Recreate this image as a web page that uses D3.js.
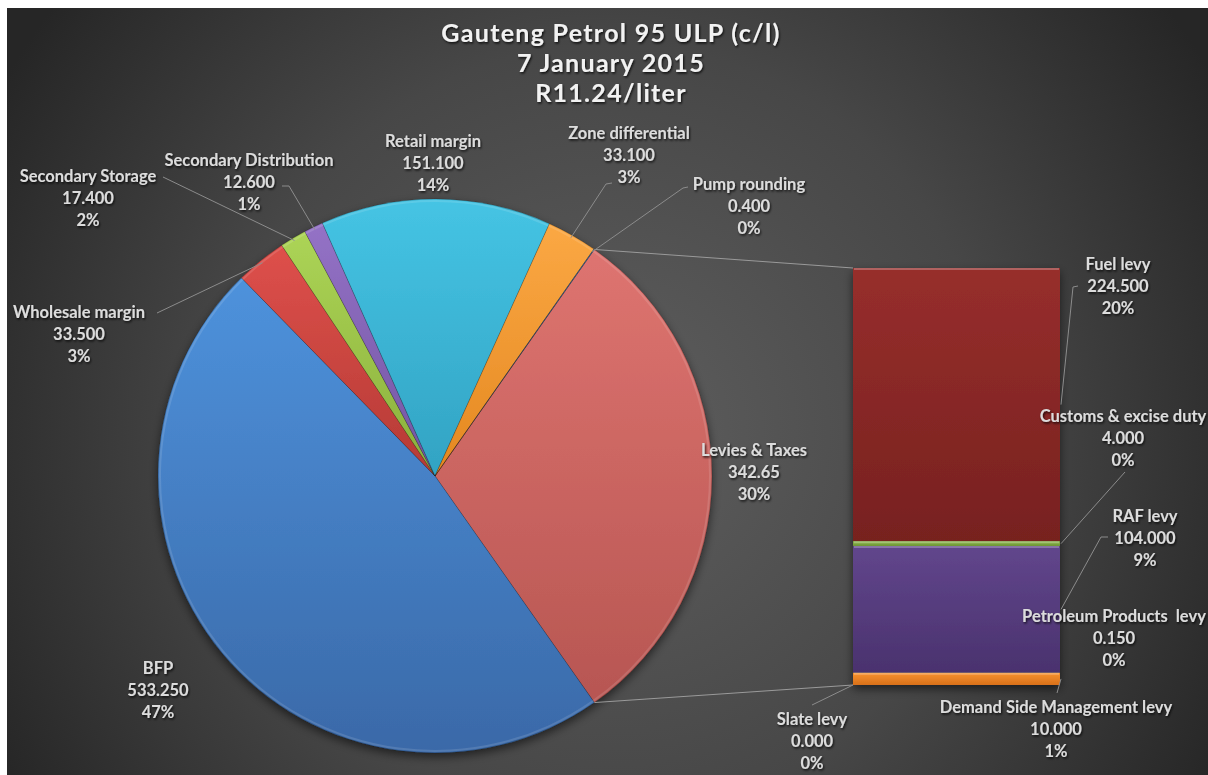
<!DOCTYPE html>
<html>
<head>
<meta charset="utf-8">
<script src="https://cdn.jsdelivr.net/npm/d3@7"></script>
<style>
  body { margin: 0; background: #fff; }
  text { font-family: Lato, "Open Sans", sans-serif; font-weight: 700; white-space: pre; }
</style>
</head>
<body>
<div id="chart"></div>
<script>
const titleLines = ['Gauteng Petrol 95 ULP (c/l)', '7 January 2015', 'R11.24/liter'];

// pie: "Levies & Taxes" is the slice that is split out into the bar
const pieNames = ['Levies & Taxes', 'BFP', 'Wholesale margin', 'Secondary Storage', 'Secondary Distribution', 'Retail margin', 'Zone differential', 'Pump rounding'];
const pieValues = [342.65, 533.25, 33.5, 17.4, 12.6, 151.1, 33.1, 0.4];
const pieValueText = ['342.65', '533.250', '33.500', '17.400', '12.600', '151.100', '33.100', '0.400'];
const piePct = ['30%', '47%', '3%', '2%', '1%', '14%', '3%', '0%'];

const barNames = ['Fuel levy', 'Customs & excise duty', 'RAF levy', 'Petroleum Products  levy', 'Demand Side Management levy', 'Slate levy'];
const barValues = [224.5, 4.0, 104.0, 0.15, 10.0, 0.0];
const barValueText = ['224.500', '4.000', '104.000', '0.150', '10.000', '0.000'];
const barPct = ['20%', '0%', '9%', '0%', '1%', '0%'];

const pieColors = [['#de7470', '#b75652'], ['#4e92dc', '#3a69a8'], ['#de504b', '#b53a35'], ['#acd456', '#8ab03c'], ['#9472c6', '#7255a2'], ['#45c4e4', '#32a3c3'], ['#fba844', '#e48820'], ['#4f81bd', '#3a6497']];
const barColors = [['#972e2c', '#77211f'], ['#8cb84a', '#6d9434'], ['#61468c', '#4a326e'], ['#4f81bd', '#3a6497'], ['#f7922e', '#d8701a'], ['#999', '#777']];

const width = 1208, height = 775;
const cx = 435, cy = 476, r = 277;
const bar = { x: 853, w: 207, top: 268, bottom: 685 };

// label layout (centre x, first baseline y, leader start points)
const pieLabelPos = {
  'Levies & Taxes': { x: 754, y: 456 },
  'BFP': { x: 158, y: 674 },
  'Wholesale margin': { x: 79, y: 318, lead: [[157, 313]] },
  'Secondary Storage': { x: 88, y: 182, lead: [[163, 177]] },
  'Secondary Distribution': { x: 249, y: 166, lead: [[282, 186], [289, 186]] },
  'Retail margin': { x: 433, y: 147 },
  'Zone differential': { x: 629, y: 139, lead: [[612, 183], [606, 184]] },
  'Pump rounding': { x: 749, y: 190, lead: [[688, 187], [683, 188]] }
};
const barLabelPos = {
  'Fuel levy': { x: 1118, y: 270, lead: [[1078, 286], [1073, 287]], side: 'right' },
  'Customs & excise duty': { x: 1123, y: 422, lead: [[1125, 472]], side: 'right' },
  'RAF levy': { x: 1145, y: 522, lead: [[1108, 537], [1101, 537]], side: 'right' },
  'Petroleum Products  levy': { x: 1114, y: 622 },
  'Demand Side Management levy': { x: 1056, y: 713, lead: [[1057, 693]], side: 'right' },
  'Slate levy': { x: 812, y: 725, lead: [[812, 705]], side: 'left' }
};

const svg = d3.select('#chart')
  .append('svg')
  .attr('width', width)
  .attr('height', height);

const defs = svg.append('defs');

const bg = defs.append('radialGradient')
  .attr('id', 'bg')
  .attr('gradientUnits', 'userSpaceOnUse')
  .attr('cx', 610).attr('cy', 430).attr('r', 700);
bg.append('stop').attr('offset', 0).attr('stop-color', '#5e5e5e');
bg.append('stop').attr('offset', 0.55).attr('stop-color', '#474747');
bg.append('stop').attr('offset', 1).attr('stop-color', '#262626');

function vGrad(id, c) {
  const g = defs.append('linearGradient')
    .attr('id', id)
    .attr('x1', 0).attr('y1', 0).attr('x2', 0).attr('y2', 1);
  g.append('stop').attr('offset', 0).attr('stop-color', c[0]);
  g.append('stop').attr('offset', 1).attr('stop-color', c[1]);
}
pieColors.forEach((c, i) => vGrad('pg' + i, c));
barColors.forEach((c, i) => vGrad('bg' + i, c));

const shadow = defs.append('filter').attr('id', 'shadow')
  .attr('x', '-10%').attr('y', '-10%').attr('width', '120%').attr('height', '125%');
shadow.append('feDropShadow')
  .attr('dx', 0).attr('dy', 4).attr('stdDeviation', 5)
  .attr('flood-color', '#000').attr('flood-opacity', 0.55);

const tshadow = defs.append('filter').attr('id', 'tshadow')
  .attr('x', '-5%').attr('y', '-20%').attr('width', '110%').attr('height', '150%');
tshadow.append('feDropShadow')
  .attr('dx', 1).attr('dy', 1.5).attr('stdDeviation', 1)
  .attr('flood-color', '#000').attr('flood-opacity', 0.8);

svg.append('rect')
  .attr('x', 7).attr('y', 8)
  .attr('width', width - 7).attr('height', height - 8)
  .attr('fill', 'url(#bg)');

// title
svg.append('g')
  .attr('filter', 'url(#tshadow)')
  .selectAll('text')
  .data(titleLines)
  .enter()
  .append('text')
  .attr('x', 611)
  .attr('y', (d, i) => 42 + i * 30)
  .attr('text-anchor', 'middle')
  .attr('font-size', 25)
  .attr('letter-spacing', 1.3)
  .attr('fill', '#f2f2f2')
  .text(d => d);

// pie
const total = d3.sum(pieValues);
const leviesAngle = pieValues[0] / total * 2 * Math.PI;
const start = Math.PI / 2 - leviesAngle / 2;
const pie = d3.pie().sort(null).startAngle(start).endAngle(start + 2 * Math.PI);
const arcs = pie(pieValues);
const arc = d3.arc().innerRadius(0).outerRadius(r);

const pg = svg.append('g')
  .attr('transform', `translate(${cx},${cy})`)
  .attr('filter', 'url(#shadow)');
pg.selectAll('path')
  .data(arcs)
  .enter()
  .append('path')
  .attr('d', arc)
  .attr('fill', (d, i) => `url(#pg${i})`)
  .attr('stroke', 'rgba(0,0,0,0.18)')
  .attr('stroke-width', 1);

// rim highlight
svg.append('g')
  .attr('transform', `translate(${cx},${cy})`)
  .selectAll('path')
  .data(arcs)
  .enter()
  .append('path')
  .attr('d', d3.arc().innerRadius(r - 3).outerRadius(r - 1))
  .attr('fill', 'rgba(255,255,255,0.12)');

const edge = a => [cx + r * Math.sin(a), cy - r * Math.cos(a)];
const midPt = (d, k) => {
  const a = (d.startAngle + d.endAngle) / 2;
  return [cx + r * k * Math.sin(a), cy - r * k * Math.cos(a)];
};

// bar of the split-out slice
const barTotal = d3.sum(barValues);
const y = d3.scaleLinear().domain([0, barTotal]).range([bar.top, bar.bottom]);
const stacked = barValues.map((v, i) => ({ v, i, y0: d3.sum(barValues.slice(0, i)) }));

const bg2 = svg.append('g').attr('filter', 'url(#shadow)');
bg2.selectAll('rect')
  .data(stacked)
  .enter()
  .append('rect')
  .attr('x', bar.x)
  .attr('width', bar.w)
  .attr('y', d => y(d.y0))
  .attr('height', d => y(d.y0 + d.v) - y(d.y0))
  .attr('fill', d => `url(#bg${d.i})`);
bg2.selectAll('line.hl')
  .data(stacked.filter(d => y(d.y0 + d.v) - y(d.y0) > 3))
  .enter()
  .append('line')
  .attr('class', 'hl')
  .attr('x1', bar.x + 1).attr('x2', bar.x + bar.w - 1)
  .attr('y1', d => y(d.y0) + 1).attr('y2', d => y(d.y0) + 1)
  .attr('stroke', 'rgba(255,255,255,0.25)')
  .attr('stroke-width', 2);

// connector lines pie -> bar
const lev = arcs[0];
const lines = svg.append('g')
  .attr('fill', 'none')
  .attr('stroke', '#9a9a9a')
  .attr('stroke-width', 1);
lines.append('line')
  .attr('x1', edge(lev.startAngle)[0]).attr('y1', edge(lev.startAngle)[1])
  .attr('x2', bar.x).attr('y2', y(0));
lines.append('line')
  .attr('x1', edge(lev.endAngle)[0]).attr('y1', edge(lev.endAngle)[1])
  .attr('x2', bar.x).attr('y2', y(barTotal));

// leader lines
const leaders = [];
arcs.forEach((d, i) => {
  const p = pieLabelPos[pieNames[i]];
  if (p.lead) leaders.push(p.lead.concat([midPt(d, 0.99)]));
});
stacked.forEach(d => {
  const p = barLabelPos[barNames[d.i]];
  if (!p.lead) return;
  const ym = Math.min(y((d.y0 + d.v / 2)), bar.bottom - 2);
  const xe = p.side === 'right' ? bar.x + bar.w + 1 : bar.x;
  leaders.push(p.lead.concat([[xe, p.side === 'left' ? bar.bottom : ym]]));
});
lines.selectAll('path')
  .data(leaders)
  .enter()
  .append('path')
  .attr('stroke', '#8c8c8c')
  .attr('d', d3.line());

// labels
function drawLabel(g, p, lines3) {
  g.append('text')
    .attr('x', p.x)
    .attr('y', p.y)
    .attr('text-anchor', 'middle')
    .attr('font-size', 16.5)
    .attr('fill', '#dcdcdc')
    .selectAll('tspan')
    .data(lines3)
    .enter()
    .append('tspan')
    .attr('x', p.x)
    .attr('dy', (d, i) => i === 0 ? 0 : 22)
    .text(d => d);
}
const lg = svg.append('g').attr('filter', 'url(#tshadow)');
pieNames.forEach((n, i) => drawLabel(lg, pieLabelPos[n], [n, pieValueText[i], piePct[i]]));
barNames.forEach((n, i) => drawLabel(lg, barLabelPos[n], [n, barValueText[i], barPct[i]]));
</script>
</body>
</html>
